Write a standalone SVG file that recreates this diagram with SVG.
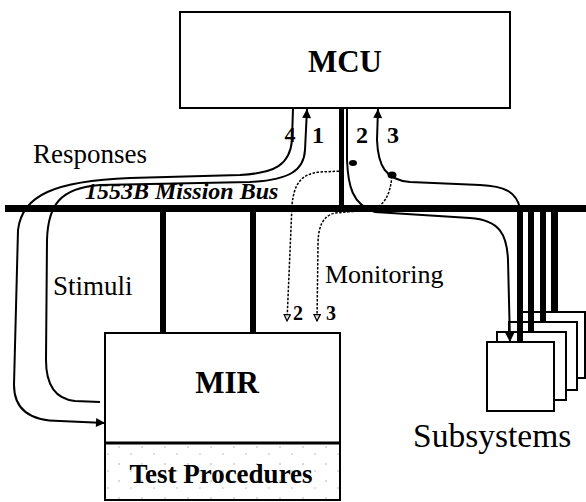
<svg xmlns="http://www.w3.org/2000/svg" width="586" height="502" viewBox="0 0 586 502">
<style>
.box{fill:#fff;stroke:#000;stroke-width:2}
.lbl{font-family:"Liberation Serif","Times New Roman",serif;fill:#000}
.b{font-weight:bold}
.wire{fill:none;stroke:#000;stroke-width:2}
.dash{fill:none;stroke:#000;stroke-width:1.5;stroke-dasharray:2.5,1.5}
.bar{fill:#000}
</style>
<defs>
<marker id="arr" viewBox="0 0 10 10" refX="10" refY="5" markerWidth="11" markerHeight="9" markerUnits="userSpaceOnUse" orient="auto">
<path d="M0,0 L10,5 L0,10 z" fill="#000"/>
</marker>
<marker id="oarr" viewBox="0 0 10 10" refX="9" refY="5" markerWidth="8" markerHeight="8" markerUnits="userSpaceOnUse" orient="auto">
<path d="M1,1 L9,5 L1,9 z" fill="#ddd" stroke="#000" stroke-width="1.5"/>
</marker>
<pattern id="stip" width="23" height="17" patternUnits="userSpaceOnUse">
<rect width="23" height="17" fill="#fff"/>
<circle cx="4" cy="5" r="0.7" fill="#999"/>
<circle cx="16" cy="12" r="0.7" fill="#aaa"/>
</pattern>
</defs>

<g id="bus">
<rect class="bar" x="5" y="205" width="581" height="7"/>
<text class="lbl b" x="85" y="199" font-size="24" font-style="italic">1553B Mission Bus</text>
</g>

<g id="mcu">
<rect class="box" x="180" y="12" width="330" height="96"/>
<text class="lbl b" x="345" y="72" font-size="31" text-anchor="middle">MCU</text>
</g>

<g id="mir">
<rect class="box" x="105" y="333" width="235" height="167"/>
<rect x="106" y="444" width="233" height="55" fill="url(#stip)"/>
<line x1="105" y1="443" x2="340" y2="443" stroke="#000" stroke-width="3"/>
<text class="lbl b" x="227" y="393" font-size="31" text-anchor="middle">MIR</text>
<text class="lbl b" x="221" y="483" font-size="27" text-anchor="middle">Test Procedures</text>
</g>

<g id="subsystems">
<rect class="box" x="519" y="312" width="66" height="66"/>
<rect class="box" x="509" y="322" width="68" height="68"/>
<rect class="box" x="497" y="332" width="69" height="68"/>
<rect class="box" x="487" y="342" width="67" height="69"/>
<text class="lbl" x="413" y="447" font-size="33.5">Subsystems</text>
</g>

<g id="connectors">
<rect class="bar" x="339" y="108" width="5" height="97"/>
<rect class="bar" x="160" y="212" width="6" height="121"/>
<rect class="bar" x="250" y="212" width="6" height="121"/>
<rect class="bar" x="517" y="212" width="6" height="130"/>
<rect class="bar" x="528" y="212" width="6" height="120"/>
<rect class="bar" x="540" y="212" width="6" height="110"/>
<rect class="bar" x="551" y="212" width="7" height="100"/>

<path class="wire" d="M293,108 L292,140 C290,165 275,173 240,175 L130,178 C55,181 22,195 18,230 L14,385 C14,410 30,421 60,421 L105,423" marker-end="url(#arr)"/>
<path class="wire" d="M100,402 L75,401 C55,399 46,385 46,360 L47,240 C48,205 60,188 100,185 L250,182 C290,180 304,170 305,150 L307,109" marker-end="url(#arr)"/>
<path class="wire" d="M347,108 L347,160 C348,185 352,205 375,212 L470,218 C500,220 507,235 508,260 L510,342" marker-end="url(#arr)"/>
<path class="wire" d="M520,208 C516,192 505,186 480,185 L410,182 C385,180 378,165 377,140 L378,109" marker-end="url(#arr)"/>
<ellipse cx="353" cy="163" rx="4" ry="3" fill="#000"/>
<ellipse cx="392" cy="175" rx="4.5" ry="3.5" fill="#000"/>

<path class="dash" d="M343,171 L320,172 C300,174 294,185 292,205 L287,321" marker-end="url(#oarr)"/>
<path class="dash" d="M392,176 C390,195 385,206 370,210 L335,213 C322,216 318,228 318,245 L317,321" marker-end="url(#oarr)"/>
</g>

<g id="labels">
<text class="lbl" x="33" y="163" font-size="27">Responses</text>
<text class="lbl" x="53" y="295" font-size="27">Stimuli</text>
<text class="lbl" x="325" y="283" font-size="26">Monitoring</text>
<text class="lbl b" x="290" y="142" font-size="22" text-anchor="middle">4</text>
<text class="lbl b" x="318" y="143" font-size="24" text-anchor="middle">1</text>
<text class="lbl b" x="362" y="143" font-size="24" text-anchor="middle">2</text>
<text class="lbl b" x="393" y="143" font-size="24" text-anchor="middle">3</text>
<text class="lbl b" x="298" y="320" font-size="20" text-anchor="middle">2</text>
<text class="lbl b" x="331" y="320" font-size="20" text-anchor="middle">3</text>
</g>
</svg>
